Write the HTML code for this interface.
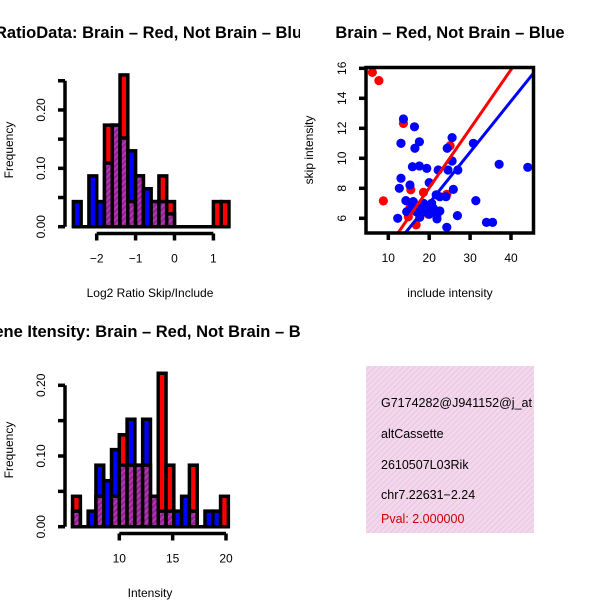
<!DOCTYPE html>
<html><head><meta charset="utf-8"><style>
body{margin:0;background:#fff}
svg{display:block;font-family:"Liberation Sans",Arial,sans-serif}
</style></head><body>
<svg id="c" width="600" height="600" viewBox="0 0 600 600">
<defs>
<pattern id="hatch" width="4" height="4" patternUnits="userSpaceOnUse" patternTransform="rotate(45)">
<rect width="4" height="4" fill="#9a209a"/><rect width="1.5" height="4" fill="#b040b0"/></pattern>
<pattern id="pink" width="4" height="4" patternUnits="userSpaceOnUse" patternTransform="rotate(45)">
<rect width="4" height="4" fill="#f8d4f4"/><rect width="1.2" height="4" fill="#e0d0d0"/></pattern>
<clipPath id="leftclip"><rect x="0" y="0" width="300" height="600"/></clipPath>
<clipPath id="boxclip"><rect x="366" y="366" width="168" height="167"/></clipPath>
<clipPath id="scatclip"><rect x="366" y="67" width="168" height="166"/></clipPath>
</defs>
<g id="g"></g>
</svg>
<script>
// ---- Top-left histogram: log2 ratio ----
const ratioBinStart = -2.6, ratioBinWidth = 0.2;
const ratioRed  = [0,0,0,0,0.174,0.174,0.26,0.043,0.087,0,0.043,0.087,0.043,0,0,0,0,0,0.043,0.043];
const ratioBlue = [0.043,0,0.087,0.043,0.109,0.174,0.152,0.13,0.087,0.065,0.043,0.043,0.022,0,0,0,0,0,0,0];
const ratioXTicks = [-2,-1,0,1];
const ratioYTicks = [0,0.05,0.10,0.15,0.20,0.25];
const ratioYLabels = ["0.00","","0.10","","0.20",""];
// ---- Bottom-left histogram: intensity ----
const intBinStart = 5.62, intBinWidth = 0.73;
const intRed  = [0.043,0,0,0.043,0,0.043,0.13,0.087,0.087,0.087,0.043,0.217,0.087,0,0,0.087,0,0,0,0.043];
const intBlue = [0.022,0,0.022,0.087,0.065,0.109,0.087,0.152,0.087,0.152,0.043,0.022,0.022,0.022,0.043,0.022,0,0.022,0.022,0];
const intXTicks = [10,15,20];
const intYTicks = [0,0.05,0.10,0.15,0.20];
const intYLabels = ["0.00","","0.10","","0.20"];
// ---- Scatter ----
const redX = [6.1,7.7,8.8,13.7,13.1,15.5,16.8,18.6,19.8,25.1,24.3,14.9,15.3];
const redY = [15.73,15.18,7.16,12.33,11.0,7.9,5.56,7.73,6.27,10.84,7.6,6.1,6.7];
const blueX = [13.7,16.4,13.1,17.6,16.5,25.6,24.4,30.8,25.6,15.9,17.6,19.4,22.2,24.6,27.0,37.1,44.1,13.1,15.3,20.0,12.7,25.9,21.7,24.1,22.6,14.3,16.1,18.6,31.4,15.7,17.3,19.4,21.0,14.5,16.8,18.9,22.6,21.9,17.7,20.0,26.9,12.3,21.9,34.0,35.5,24.3,18.1,20.6];
const blueY = [12.62,12.1,11.0,11.1,10.67,11.38,10.67,11.0,9.82,9.44,9.49,9.33,9.22,9.22,9.22,9.6,9.4,8.67,8.22,8.38,8.0,7.93,7.56,7.44,7.44,7.18,7.11,7.0,7.18,6.71,6.67,6.78,6.67,6.44,6.44,6.44,6.49,6.22,6.07,6.27,6.18,6.0,5.96,5.73,5.73,5.4,6.82,7.0];
const redFit = [0.15,0.394];   // intercept, slope
const blueFit = [0.21,0.340];
const scatXTicks = [10,20,30,40];
const scatYTicks = [6,8,10,12,14,16];

const NS="http://www.w3.org/2000/svg";
const root=document.getElementById('g');
function mk(tag,attrs,parent,text){const e=document.createElementNS(NS,tag);for(const k in attrs)e.setAttribute(k,attrs[k]);if(text!==undefined)e.textContent=text;(parent||root).appendChild(e);return e;}

function hist(o){
  const g=mk('g',{});
  
  
  if(o.clip) g.setAttribute('clip-path','url(#leftclip)');
  const X=v=>o.x0+(v-o.xv0)*o.xs, Y=v=>o.y0-v*o.ys;
  const n=o.red.length;
  for(let i=0;i<n;i++){
    const a=o.start+i*o.w,b=a+o.w,r=o.red[i],bl=o.blue[i];
    const hi=Math.max(r,bl),lo=Math.min(r,bl);
    if(hi<=0) continue;
    const bar=mk('rect',{x:X(a),y:Y(hi),width:X(b)-X(a),height:Y(0)-Y(hi),fill:r>bl?'#ff0000':'#0000ff',stroke:'#000','stroke-width':3.5},g);
    
    
    if(lo>0){const p=mk('rect',{x:X(a),y:Y(lo),width:X(b)-X(a),height:Y(0)-Y(lo),fill:'url(#hatch)',stroke:'#000','stroke-width':3.5},g);
      
      }
  }
  mk('line',{x1:X(o.start),x2:X(o.start+n*o.w),y1:Y(0),y2:Y(0),stroke:'#000','stroke-width':3.5},g);
  const ya=mk('g',{},g);
  
  
  const yt=o.yTicks;
  mk('line',{x1:o.yAxisX,x2:o.yAxisX,y1:Y(yt[0]),y2:Y(yt[yt.length-1]),stroke:'#000','stroke-width':3.5},ya);
  yt.forEach((v,i)=>{mk('line',{x1:o.yAxisX-7,x2:o.yAxisX,y1:Y(v),y2:Y(v),stroke:'#000','stroke-width':3.5},ya);
    if(o.yLabels[i]){mk('text',{x:0,y:0,transform:`translate(${o.yAxisX-20},${Y(v)}) rotate(-90)`,'text-anchor':'middle','font-size':12},ya,o.yLabels[i]);}});
  const xa=mk('g',{},g);
  
  
  const xt=o.xTicks;
  mk('line',{x1:X(xt[0]),x2:X(xt[xt.length-1]),y1:o.xAxisY,y2:o.xAxisY,stroke:'#000','stroke-width':3.5},xa);
  xt.forEach(v=>{mk('line',{x1:X(v),x2:X(v),y1:o.xAxisY,y2:o.xAxisY+7,stroke:'#000','stroke-width':3.5},xa);
    mk('text',{x:X(v),y:o.xAxisY+29,'text-anchor':'middle','font-size':12},xa,v<0?'\u2212'+(-v):String(v));});
}
hist({name:'ratio-histogram',clip:true,red:ratioRed,blue:ratioBlue,start:ratioBinStart,w:ratioBinWidth,x0:96.7,xv0:-2,xs:38.9,y0:226.7,ys:583.7,yTicks:ratioYTicks,yLabels:ratioYLabels,yAxisX:65,xTicks:ratioXTicks,xAxisY:233.5});
hist({name:'intensity-histogram',clip:true,red:intRed,blue:intBlue,start:intBinStart,w:intBinWidth,x0:119.3,xv0:10,xs:10.67,y0:526.7,ys:707,yTicks:intYTicks,yLabels:intYLabels,yAxisX:65,xTicks:intXTicks,xAxisY:533.5});

const sg=mk('g',{});


const SX=v=>388.3+(v-10)*4.09, SY=v=>218.3-(v-6)*15;
const pts=mk('g',{'clip-path':'url(#scatclip)'},sg);
redX.forEach((x,i)=>{const c=mk('circle',{cx:SX(x),cy:SY(redY[i]),r:4.6,fill:'#ff0000'},pts);
  
  });
blueX.forEach((x,i)=>{const c=mk('circle',{cx:SX(x),cy:SY(blueY[i]),r:4.6,fill:'#0000ff'},pts);
  
  });
[[redFit,'#ff0000','red-fit-line'],[blueFit,'#0000ff','blue-fit-line']].forEach(([f,col,nm])=>{
  const l=mk('line',{x1:SX(0),y1:SY(f[0]),x2:SX(60),y2:SY(f[0]+f[1]*60),stroke:col,'stroke-width':3},pts);
  
  });
mk('rect',{x:366,y:67.5,width:167.5,height:165.5,fill:'none',stroke:'#000','stroke-width':3.5},sg);
scatXTicks.forEach(v=>{mk('line',{x1:SX(v),x2:SX(v),y1:233,y2:240,stroke:'#000','stroke-width':3.5},sg);
  mk('text',{x:SX(v),y:262,'text-anchor':'middle','font-size':12},sg,String(v));});
scatYTicks.forEach(v=>{mk('line',{x1:359,x2:366,y1:SY(v),y2:SY(v),stroke:'#000','stroke-width':3.5},sg);
  mk('text',{x:0,y:0,transform:`translate(346,${SY(v)}) rotate(-90)`,'text-anchor':'middle','font-size':12},sg,String(v));});
</script>
<svg width="600" height="600" style="position:absolute;left:0;top:0">
<g clip-path="url(#leftclip)" font-family="Liberation Sans, Arial, sans-serif">
<text x="138" y="38" text-anchor="middle" font-size="16.5" font-weight="bold">LogRatioData: Brain – Red, Not Brain – Blue</text>
<text x="153" y="337" text-anchor="middle" font-size="16.5" font-weight="bold">Gene Itensity: Brain – Red, Not Brain – Blue</text>
</g>
<g font-family="Liberation Sans, Arial, sans-serif" font-size="12">
<text x="450" y="38" text-anchor="middle" font-size="16.5" font-weight="bold">Brain – Red, Not Brain – Blue</text>
<text x="150" y="297" text-anchor="middle">Log2 Ratio Skip/Include</text>
<text x="150" y="597" text-anchor="middle">Intensity</text>
<text x="450" y="297" text-anchor="middle">include intensity</text>
<text transform="translate(13,150) rotate(-90)" text-anchor="middle">Frequency</text>
<text transform="translate(13,450) rotate(-90)" text-anchor="middle">Frequency</text>
<text transform="translate(313,150) rotate(-90)" text-anchor="middle">skip intensity</text>
</g>
<g clip-path="url(#boxclip)" font-family="Liberation Sans, Arial, sans-serif" font-size="12.5">
<rect x="366" y="366" width="168" height="167" fill="url(#pink)"/>
<text x="381" y="407">G7174282@J941152@j_at</text>
<text x="381" y="438">altCassette</text>
<text x="381" y="469">2610507L03Rik</text>
<text x="381" y="499">chr7.22631−2.24</text>
<text x="381" y="523" fill="#cc0000">Pval: 2.000000</text>
</g>
</svg>
</body></html>
